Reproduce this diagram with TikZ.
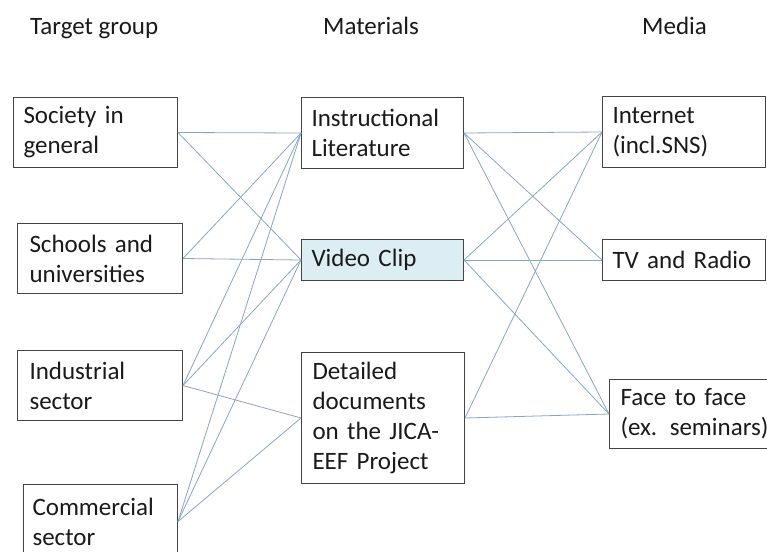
\documentclass[tikz,border=0pt]{standalone}
\usepackage{fontspec}
\setmainfont{Carlito}
\definecolor{boxgray}{HTML}{444444}
\definecolor{linkblue}{HTML}{8AA4C8}
\definecolor{clipfill}{HTML}{DCEEF4}
\definecolor{txt}{HTML}{1A1A1A}
\newcommand{\diagfont}{\fontsize{25}{30}\selectfont}
\begin{document}
\begin{tikzpicture}[x=1pt,y=-1pt,
  box/.style={draw=boxgray, line width=1pt, rectangle, inner xsep=10pt, inner ysep=0pt,
    align=left, anchor=north west, text=txt, font=\diagfont},
  header/.style={anchor=base west, inner sep=0pt, text=txt, font=\diagfont},
  link/.style={draw=linkblue, line width=0.8pt}]
\useasboundingbox (0,0) rectangle (767,551);
\fill[white] (0,0) rectangle (767,551);
% headers
\node[header] (h1) at (30,35) {Target group};
\node[header] (h2) at (323,35) {Materials};
\node[header] (h3) at (642,35) {Media};
% target group
\node[box, text width=144pt, minimum height=70pt] (soc) at (13,97) {Society in\\general};
\node[box, inner xsep=12pt, text width=141pt, minimum height=70pt] (sch) at (17,223) {Schools and\\universities};
\node[box, inner xsep=12pt, text width=141pt, minimum height=70pt] (ind) at (17,350) {Industrial\\sector};
\node[box, inner xsep=9pt, text width=136pt, minimum height=74pt] (com) at (23,484) {Commercial\\sector};
% materials
\node[box, text width=142pt, minimum height=71pt] (ins) at (301,97) {Instructional\\Literature};
\node[box, fill=clipfill, text width=142pt, minimum height=41pt] (vid) at (301,239) {Video Clip};
\node[box, inner xsep=11pt, text width=141pt, minimum height=131pt] (det) at (301,352) {Detailed\\documents\\on the JICA-\\EEF Project};
% media
\node[box, text width=143pt, minimum height=71pt] (int) at (602,96) {Internet\\(incl.SNS)};
\node[box, text width=143pt, minimum height=41pt] (tv) at (602,239) {\mbox{TV and Radio}};
\node[box, inner xsep=11pt, text width=136pt, minimum height=69pt] (f2f) at (609,379) {\mbox{Face to face}\\\mbox{(ex. seminars)}};
% links target -> materials
\draw[link] (soc.east) -- (ins.west);
\draw[link] (soc.east) -- (vid.west);
\draw[link] (sch.east) -- (ins.west);
\draw[link] (sch.east) -- (vid.west);
\draw[link] (ind.east) -- (ins.west);
\draw[link] (ind.east) -- (vid.west);
\draw[link] (ind.east) -- (det.west);
\draw[link] (com.east) -- (ins.west);
\draw[link] (com.east) -- (vid.west);
\draw[link] (com.east) -- (det.west);
% links materials -> media
\draw[link] (ins.east) -- (int.west);
\draw[link] (ins.east) -- (tv.west);
\draw[link] (ins.east) -- (f2f.west);
\draw[link] (vid.east) -- (int.west);
\draw[link] (vid.east) -- (tv.west);
\draw[link] (vid.east) -- (f2f.west);
\draw[link] (det.east) -- (int.west);
\draw[link] (det.east) -- (f2f.west);
\end{tikzpicture}
\end{document}
